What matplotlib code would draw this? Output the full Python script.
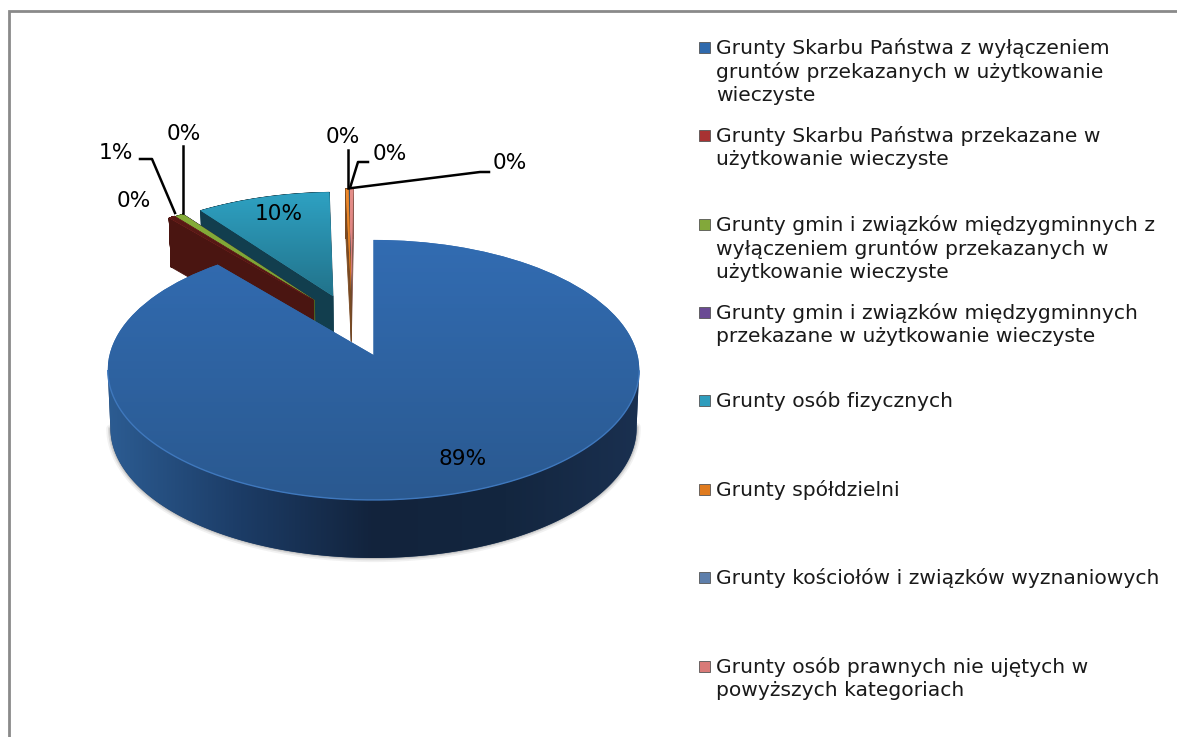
#!/usr/bin/env python
# -*- coding: utf-8 -*-
import numpy as np
import matplotlib
matplotlib.use('Agg')
import matplotlib.pyplot as plt
import matplotlib.transforms as mtransforms
from matplotlib.collections import PolyCollection
from matplotlib.colors import LinearSegmentedColormap
from matplotlib.patches import Polygon, Rectangle

categories = [
    'Grunty Skarbu Państwa z wyłączeniem\ngruntów przekazanych w użytkowanie\nwieczyste',
    'Grunty Skarbu Państwa przekazane w\nużytkowanie wieczyste',
    'Grunty gmin i związków międzygminnych z\nwyłączeniem gruntów przekazanych w\nużytkowanie wieczyste',
    'Grunty gmin i związków międzygminnych\nprzekazane w użytkowanie wieczyste',
    'Grunty osób fizycznych',
    'Grunty spółdzielni',
    'Grunty kościołów i związków wyznaniowych',
    'Grunty osób prawnych nie ujętych w\npowyższych kategoriach',
]
values = [88.9, 0.45, 0.6, 0.01, 9.5, 0.2, 0.01, 0.33]
value_labels = ['89%', '0%', '1%', '0%', '10%', '0%', '0%', '0%']

legend_colors = ['#2f6aad', '#a83232', '#82a83a', '#6a4a94', '#2f9dbd', '#e07b1f', '#5e7fab', '#d97a78']
top_colors = [('#326cb2', '#2a5990'), ('#5a1a16', '#4a1511'), ('#86ae3a', '#7a9e34'), ('#6a4a94', '#5a3f80'),
              ('#2ea1c2', '#22738b'), ('#ee8a2c', '#e07b1f'), ('#5e7fab', '#5e7fab'), ('#e58f8a', '#d97a78')]
wall_colors = [None, '#4a1511', '#4d6322', '#3a2a55', '#123e4e', '#7a4a22', '#39506c', '#8a5a50']

# pie shape in pixels, with a bit of perspective
CX, CY = 373.5, 355.0
RX, RY = 264.0, 128.3
PERSP = 0.115
# how far each slice is pulled out, in pie radii
pull = [(0, 0), (-0.24, 0.45), (-0.235, 0.447), (-0.235, 0.447), (-0.162, 0.485), (-0.09, 0.52), (-0.09, 0.52), (-0.09, 0.52)]
depth = [58, 49, 49, 49, 49, 49, 49, 49]
draw_order = [7, 6, 5, 4, 3, 2, 1, 0]

LEGEND_FS = 14.55
LABEL_FS = 15.6


class Tilt(mtransforms.Transform):
    input_dims = 2
    output_dims = 2

    def transform_non_affine(self, xy):
        xy = np.asarray(xy, dtype=float)
        w = 1 + PERSP * xy[:, 1]
        return np.column_stack((CX + RX * xy[:, 0] / w, CY - RY * xy[:, 1] / w))


fig = plt.figure(figsize=(11.77, 7.37), dpi=100)
ax = fig.add_axes([0, 0, 1, 1])
tilt = Tilt()

wedges, _ = ax.pie(values, startangle=90, counterclock=False, colors=legend_colors,
                   wedgeprops={'linewidth': 0})

main_wall = LinearSegmentedColormap.from_list('wall', ['#2c5c92', '#1c3c66', '#12233c', '#13263f', '#1a3050'])

for z, i in enumerate(draw_order):
    w = wedges[i]
    w.set_center(pull[i])
    w.set_transform(tilt + ax.transData)
    w.set_zorder(10 + z * 3)

    # side walls
    th = np.radians(np.linspace(w.theta1, w.theta2, 400))
    cx, cy = w.center
    pts = np.vstack(([cx, cy], np.column_stack((cx + np.cos(th), cy + np.sin(th))), [cx, cy]))
    top = tilt.transform(pts)
    bottom = top + [0, depth[i]]
    bottom[:, 0] = CX + (bottom[:, 0] - CX) * 0.99
    if wall_colors[i] is None:
        # main slice: only the front of the rim shows, shaded left to right
        lo, hi = sorted((np.argmin(top[:, 0]), np.argmax(top[:, 0])))
        front = bottom[lo:hi + 1]
        for lw, a in [(6, 0.08), (3.5, 0.14), (1.5, 0.2)]:
            ax.plot(front[:, 0], front[:, 1], color='#555555', lw=lw, alpha=a, zorder=z * 3 + 8,
                    solid_capstyle='round')
        band = Polygon(np.vstack((top[lo:hi + 1], front[::-1])), closed=True, facecolor='#1c3c66',
                       edgecolor='none', zorder=z * 3 + 9)
        ax.add_patch(band)
        im = ax.imshow(np.linspace(0, 1, 256).reshape(1, -1), cmap=main_wall, aspect='auto',
                       extent=(108, 640, 558, 240), zorder=z * 3 + 9.5)
        im.set_clip_path(band)
    else:
        quads = [np.vstack((top[k], top[k + 1], bottom[k + 1], bottom[k])) for k in range(len(top) - 1)]
        ax.add_collection(PolyCollection(quads, facecolors=wall_colors[i], edgecolors=wall_colors[i],
                                         linewidths=0.6, zorder=z * 3 + 9))

    # top face shading
    grad = LinearSegmentedColormap.from_list('top', top_colors[i])
    y0, y1 = top[:, 1].min(), top[:, 1].max()
    im = ax.imshow(np.linspace(0, 1, 64).reshape(-1, 1), cmap=grad, aspect='auto',
                   extent=(top[:, 0].min(), top[:, 0].max(), y1, y0), zorder=z * 3 + 11)
    im.set_clip_path(w)

    if i == 0:
        rim = top[1:-1]
        rim = rim[rim[:, 1] > CY + 15]
        ax.plot(rim[:, 0], rim[:, 1], color='#3f78bd', lw=1.0, zorder=z * 3 + 12)

ax.set_aspect('auto')
ax.set_xlim(0, 1177)
ax.set_ylim(737, 0)
ax.axis('off')

# chart frame
ax.plot([8.5, 8.5, 1177], [737, 11, 11], color='#8a8a8a', lw=2, zorder=50, solid_joinstyle='miter')

# leader lines
leaders = [
    ([140, 152, 175], [159, 159, 213]),
    ([183, 183], [146, 213]),
    ([348, 348], [150, 188]),
    ([368, 358, 350], [162, 162, 188]),
    ([489, 480, 352], [172, 172, 188]),
]
for xs, ys in leaders:
    ax.plot(xs, ys, color='black', lw=1.8, zorder=40)

# data labels, in the order of the slices
label_pos = [(463, 459), (134, 201), (116, 153), (184, 134), (279, 214), (343, 137), (390, 154), (510, 163)]
for s, (x, y) in zip(value_labels, label_pos):
    ax.text(x, y, s, fontsize=LABEL_FS, color='black', ha='center', va='center', zorder=45,
            family='DejaVu Sans')

# legend
legend_y = [38, 126, 215, 303, 391, 480, 568, 657]
for name, col, y in zip(categories, legend_colors, legend_y):
    ax.add_patch(Rectangle((699, y + 4), 11, 11, facecolor=col, edgecolor='#555555', lw=0.6, zorder=30))
    ax.text(716, y, name, fontsize=LEGEND_FS, color='#1a1a1a', ha='left', va='top', linespacing=1.27,
            family='DejaVu Sans', zorder=30)

fig.savefig('out.png', dpi=100)
